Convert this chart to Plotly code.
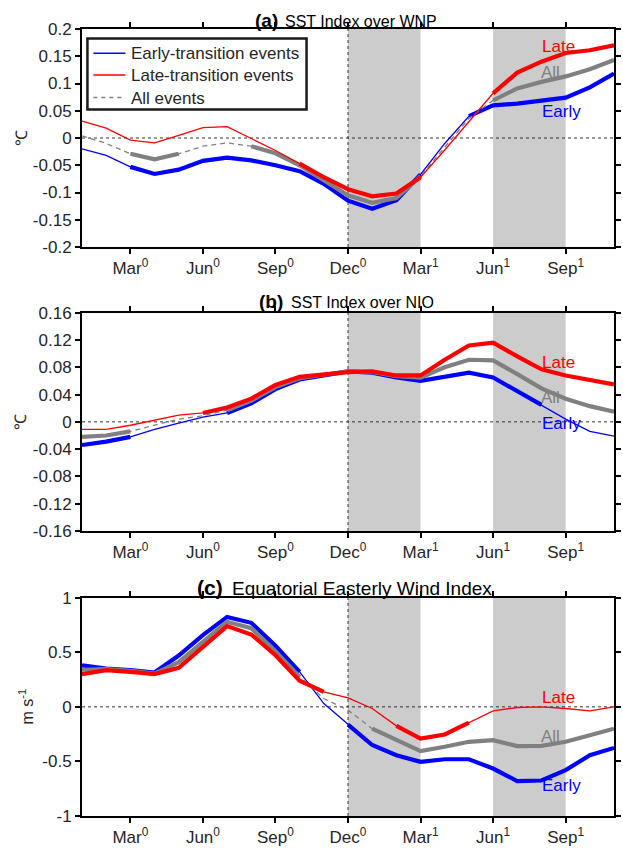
import plotly.graph_objects as go

# ---------------- data ----------------
months = list(range(1, 24))  # Jan(0) ... Nov(1)
tick_months = [3, 6, 9, 12, 15, 18, 21]
tick_labels = ["Mar<sup>0</sup>", "Jun<sup>0</sup>", "Sep<sup>0</sup>", "Dec<sup>0</sup>",
               "Mar<sup>1</sup>", "Jun<sup>1</sup>", "Sep<sup>1</sup>"]
shade_periods = [(12, 15), (18, 21)]
ref_month = 12

series_names = ["Early-transition events", "Late-transition events", "All events"]

# (a) SST index over WNP
a_early = [-0.020, -0.032, -0.053, -0.066, -0.058, -0.042, -0.036, -0.041, -0.050, -0.061, -0.084, -0.115,
           -0.130, -0.114, -0.067, -0.010, 0.040, 0.060, 0.063, 0.068, 0.074, 0.093, 0.118]
a_late = [0.031, 0.018, -0.004, -0.009, 0.005, 0.019, 0.021, -0.001, -0.023, -0.047, -0.072, -0.094,
          -0.107, -0.102, -0.072, -0.022, 0.030, 0.082, 0.120, 0.140, 0.156, 0.161, 0.170]
a_all = [0.004, -0.010, -0.029, -0.039, -0.029, -0.015, -0.009, -0.015, -0.028, -0.050, -0.078, -0.105,
         -0.119, -0.110, -0.070, -0.018, 0.036, 0.069, 0.091, 0.103, 0.113, 0.126, 0.143]
a_early_sig = [3, 15, 17, 23]
a_late_sig = [10, 15, 18, 23]
a_all_sig = [3, 5, 8, 15, 18, 23]

# (b) SST index over NIO
b_early = [-0.034, -0.029, -0.022, -0.011, -0.002, 0.007, 0.013, 0.027, 0.048, 0.062, 0.068, 0.074,
           0.072, 0.065, 0.060, 0.066, 0.072, 0.065, 0.045, 0.025, 0.004, -0.014, -0.021]
b_late = [-0.011, -0.011, -0.005, 0.003, 0.010, 0.013, 0.021, 0.034, 0.054, 0.066, 0.070, 0.073,
          0.074, 0.068, 0.068, 0.091, 0.112, 0.116, 0.096, 0.077, 0.068, 0.062, 0.055]
b_all = [-0.022, -0.020, -0.014, -0.005, 0.004, 0.009, 0.017, 0.031, 0.051, 0.064, 0.069, 0.074,
         0.073, 0.067, 0.065, 0.080, 0.091, 0.090, 0.070, 0.049, 0.034, 0.023, 0.015]
b_early_sig = [1, 3, 7, 20]
b_late_sig = [6, 23]
b_all_sig = [1, 3, 7, 23]

# (c) Equatorial easterly wind index
c_early = [0.38, 0.35, 0.336, 0.315, 0.47, 0.657, 0.824, 0.77, 0.56, 0.32, 0.03, -0.162,
           -0.35, -0.443, -0.504, -0.48, -0.48, -0.565, -0.68, -0.675, -0.58, -0.443, -0.376]
c_late = [0.30, 0.336, 0.32, 0.30, 0.357, 0.55, 0.74, 0.663, 0.473, 0.24, 0.137, 0.082,
          -0.015, -0.174, -0.29, -0.253, -0.144, -0.037, -0.006, 0.0, -0.015, -0.037, 0.0]
c_all = [0.34, 0.345, 0.33, 0.305, 0.41, 0.60, 0.78, 0.72, 0.51, 0.275, 0.076, -0.03,
         -0.20, -0.305, -0.406, -0.366, -0.32, -0.305, -0.36, -0.357, -0.32, -0.26, -0.20]
c_early_sig = [1, 10, 12, 23]
c_late_sig = [1, 11, 14, 17]
c_all_sig = [1, 10, 13, 23]

a_ticks = [-0.2, -0.15, -0.1, -0.05, 0, 0.05, 0.1, 0.15, 0.2]
a_ticktext = ["-0.2", "-0.15", "-0.1", "-0.05", "0", "0.05", "0.1", "0.15", "0.2"]
b_ticks = [-0.16, -0.12, -0.08, -0.04, 0, 0.04, 0.08, 0.12, 0.16]
b_ticktext = ["-0.16", "-0.12", "-0.08", "-0.04", "0", "0.04", "0.08", "0.12", "0.16"]
c_ticks = [-1, -0.5, 0, 0.5, 1]
c_ticktext = ["-1", "-0.5", "0", "0.5", "1"]

# ---------------- styling ----------------
BLUE, RED, GRAY = "#0000ff", "#ff0000", "#808080"
FONT = "Liberation Sans, Arial, sans-serif"
TXT = "#262626"

W, H = 623, 851
ml, mr, mt, mb = 82, 2, 29, 35
pw, ph = W - ml - mr, H - mt - mb


def px_x(px):
    return (px - ml) / pw


def px_y(py):
    return (H - mb - py) / ph


fig = go.Figure()


def sig_mask(vals, ranges):
    out = [None] * len(vals)
    for i in range(0, len(ranges), 2):
        s, e = ranges[i], ranges[i + 1]
        for m in range(s, e + 1):
            out[m - 1] = vals[m - 1]
    return out


panels = [
    ("x", "y", a_early, a_late, a_all, a_early_sig, a_late_sig, a_all_sig),
    ("x2", "y2", b_early, b_late, b_all, b_early_sig, b_late_sig, b_all_sig),
    ("x3", "y3", c_early, c_late, c_all, c_early_sig, c_late_sig, c_all_sig),
]

for xa, ya, e, l, a, es, ls, as_ in panels:
    fig.add_trace(go.Scatter(x=months, y=e, xaxis=xa, yaxis=ya, mode="lines",
                             line=dict(color=BLUE, width=1.3), name=series_names[0],
                             showlegend=False, hoverinfo="skip"))
    fig.add_trace(go.Scatter(x=months, y=sig_mask(e, es), xaxis=xa, yaxis=ya, mode="lines",
                             line=dict(color=BLUE, width=4.2), showlegend=False, connectgaps=False,
                             hoverinfo="skip"))
    fig.add_trace(go.Scatter(x=months, y=a, xaxis=xa, yaxis=ya, mode="lines",
                             line=dict(color=GRAY, width=1.3, dash="5px,4px"), name=series_names[2],
                             showlegend=False, hoverinfo="skip"))
    fig.add_trace(go.Scatter(x=months, y=sig_mask(a, as_), xaxis=xa, yaxis=ya, mode="lines",
                             line=dict(color=GRAY, width=4.2), showlegend=False, connectgaps=False,
                             hoverinfo="skip"))
    fig.add_trace(go.Scatter(x=months, y=l, xaxis=xa, yaxis=ya, mode="lines",
                             line=dict(color=RED, width=1.3), name=series_names[1],
                             showlegend=False, hoverinfo="skip"))
    fig.add_trace(go.Scatter(x=months, y=sig_mask(l, ls), xaxis=xa, yaxis=ya, mode="lines",
                             line=dict(color=RED, width=4.2), showlegend=False, connectgaps=False,
                             hoverinfo="skip"))


def dom(top_px, bot_px):
    return [px_y(bot_px), px_y(top_px)]


doms = [dom(29, 247), dom(312.7, 531), dom(597.7, 816)]

xaxis_common = dict(range=[1, 23], tickvals=tick_months, ticktext=tick_labels,
                    showline=True, linecolor="black", linewidth=2, mirror="ticks",
                    ticks="outside", ticklen=5, tickwidth=1.5, tickcolor="black",
                    showgrid=False, zeroline=False,
                    tickfont=dict(family=FONT, size=17, color=TXT))
yaxis_common = dict(showline=True, linecolor="black", linewidth=2, mirror="ticks",
                    ticks="outside", ticklen=5, tickwidth=1.5, tickcolor="black",
                    showgrid=False, zeroline=False,
                    tickfont=dict(family=FONT, size=17, color=TXT))

layout = dict(width=W, height=H, margin=dict(l=ml, r=mr, t=mt, b=mb),
              paper_bgcolor="white", plot_bgcolor="white",
              font=dict(family=FONT, color=TXT, size=16), showlegend=False)

yranges = [[-0.2, 0.2], [-0.16, 0.16], [-1, 1]]
yticks = [(a_ticks, a_ticktext), (b_ticks, b_ticktext), (c_ticks, c_ticktext)]
for i in range(3):
    sx = "" if i == 0 else str(i + 1)
    layout["xaxis" + sx] = dict(xaxis_common, domain=[0, 1], anchor="y" + sx)
    layout["yaxis" + sx] = dict(yaxis_common, domain=doms[i], anchor="x" + sx,
                                range=yranges[i], tickvals=yticks[i][0], ticktext=yticks[i][1])

shapes = []
annotations = []
for i in range(3):
    sx = "" if i == 0 else str(i + 1)
    xr, yr = "x" + sx, "y" + sx
    for (s, e) in shade_periods:
        shapes.append(dict(type="rect", xref=xr, yref=yr + " domain", x0=s, x1=e, y0=0, y1=1,
                           fillcolor="#cccccc", line=dict(width=0), layer="below"))
    shapes.append(dict(type="line", xref=xr, yref=yr + " domain", x0=ref_month, x1=ref_month,
                       y0=0, y1=1, line=dict(color="#333333", width=1, dash="dot"), layer="below"))
    shapes.append(dict(type="line", xref=xr + " domain", yref=yr, x0=0, x1=1, y0=0, y1=0,
                       line=dict(color="#333333", width=1, dash="dot"), layer="below"))

# legend (drawn box in panel a)
shapes.append(dict(type="rect", xref="paper", yref="paper", x0=px_x(87.5), x1=px_x(309.5),
                   y0=px_y(109.5), y1=px_y(38.5), fillcolor="white",
                   line=dict(color="#1a1a1a", width=2.5), layer="above"))
leg_items = [(series_names[0], BLUE, "solid", 53.3), (series_names[1], RED, "solid", 75.0),
             (series_names[2], GRAY, "4px,4px", 97.5)]
for name, col, dash, yy in leg_items:
    shapes.append(dict(type="line", xref="paper", yref="paper", x0=px_x(93.5), x1=px_x(126),
                       y0=px_y(yy), y1=px_y(yy), line=dict(color=col, width=1.5, dash=dash),
                       layer="above"))
    annotations.append(dict(xref="paper", yref="paper", x=px_x(129.5), y=px_y(yy + 0.5),
                            xanchor="left", yanchor="middle", showarrow=False, text=name,
                            font=dict(family=FONT, size=17, color=TXT)))

# titles
title_specs = [
    ("(a)", "SST Index over WNP", 19, 16, 283, 286, 20.5),
    ("(b)", "SST Index over NIO", 19, 16, 287.5, 291.5, 301),
    ("(c)", "Equatorial Easterly Wind Index", 21, 19, 226.5, 232, 587),
]
for lab, txt, s1, s2, xr_px, xl_px, y_px in title_specs:
    annotations.append(dict(xref="paper", yref="paper", x=px_x(xr_px), y=px_y(y_px),
                            xanchor="right", yanchor="middle", showarrow=False,
                            text=f"<b>{lab}</b>", font=dict(family=FONT, size=s1, color="black")))
    annotations.append(dict(xref="paper", yref="paper", x=px_x(xl_px), y=px_y(y_px + 1),
                            xanchor="left", yanchor="middle", showarrow=False,
                            text=txt, font=dict(family=FONT, size=s2, color="black")))

# y-axis titles
ylab = ["\u2103", "\u2103", "m s<sup>-1</sup>"]
ylab_px = [20, 20, 25]
for i in range(3):
    annotations.append(dict(xref="paper", yref="paper", x=px_x(ylab_px[i]),
                            y=sum(doms[i]) / 2, xanchor="center", yanchor="middle",
                            textangle=-90, showarrow=False, text=ylab[i],
                            font=dict(family=FONT, size=16, color=TXT)))

# series labels
series_labels = [
    [("Late", RED, 20.71, 0.1686), ("All", GRAY, 20.39, 0.121), ("Early", BLUE, 20.84, 0.048)],
    [("Late", RED, 20.71, 0.0875), ("All", GRAY, 20.39, 0.036), ("Early", BLUE, 20.84, -0.0024)],
    [("Late", RED, 20.71, 0.086), ("All", GRAY, 20.39, -0.268), ("Early", BLUE, 20.84, -0.717)],
]
for i in range(3):
    sx = "" if i == 0 else str(i + 1)
    for txt, col, xx, yy in series_labels[i]:
        annotations.append(dict(xref="x" + sx, yref="y" + sx, x=xx, y=yy, text=txt,
                                showarrow=False, xanchor="center", yanchor="middle",
                                font=dict(family=FONT, size=17, color=col)))

layout["shapes"] = shapes
layout["annotations"] = annotations
fig.update_layout(**layout)

fig.write_html("out.html")
